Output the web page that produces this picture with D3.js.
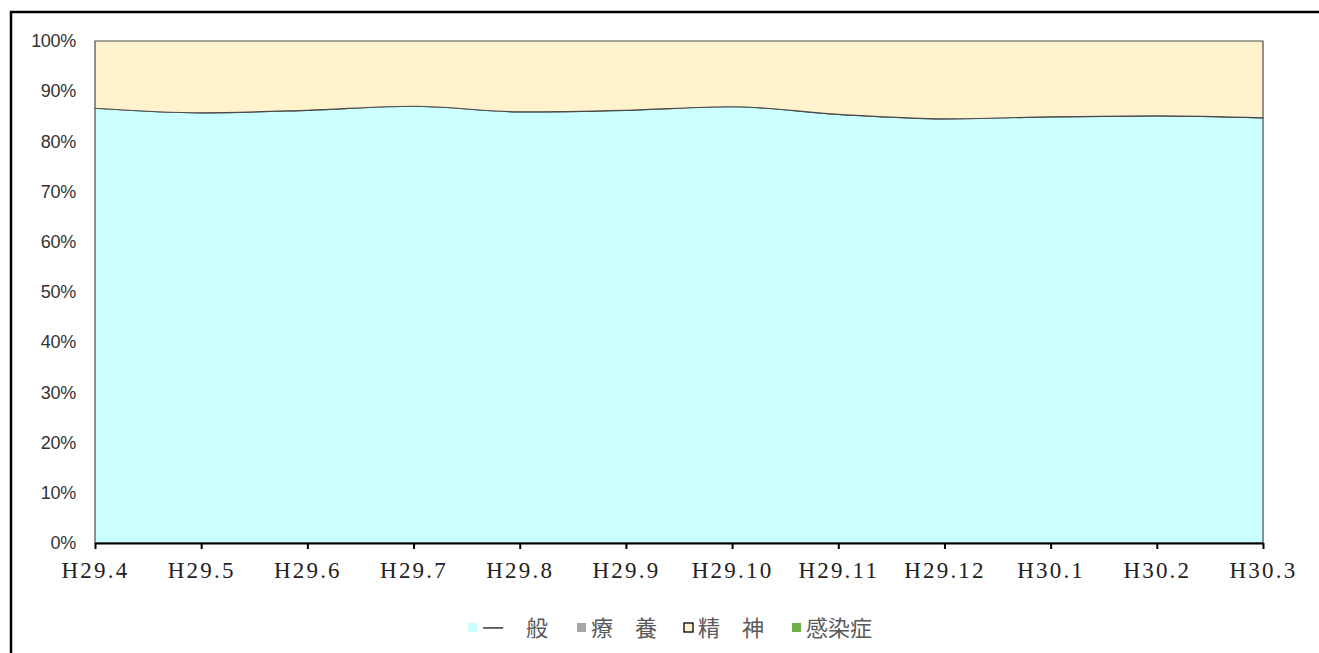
<!DOCTYPE html>
<html>
<head>
<meta charset="utf-8">
<script src="https://cdn.jsdelivr.net/npm/d3@7"></script>
<style>
  body { margin: 0; background: #fff; }
  svg { display: block; }
</style>
</head>
<body>
<div id="chart"></div>
<script>
// months (category axis)
var months = ["H29.4", "H29.5", "H29.6", "H29.7", "H29.8", "H29.9", "H29.10", "H29.11", "H29.12", "H30.1", "H30.2", "H30.3"];
// share of each bed type, %
var ippan   = [86.6, 85.7, 86.2, 87.0, 85.9, 86.2, 86.9, 85.4, 84.5, 84.9, 85.1, 84.7];
var ryouyou = [0, 0, 0, 0, 0, 0, 0, 0, 0, 0, 0, 0];
var seishin = [13.4, 14.3, 13.8, 13.0, 14.1, 13.8, 13.1, 14.6, 15.5, 15.1, 14.9, 15.3];
var kansen  = [0, 0, 0, 0, 0, 0, 0, 0, 0, 0, 0, 0];
var yTicks  = [0, 0.1, 0.2, 0.3, 0.4, 0.5, 0.6, 0.7, 0.8, 0.9, 1];

var seriesNames = ["一　般", "療　養", "精　神", "感染症"];
var seriesKeys = ["ippan", "ryouyou", "seishin", "kansen"];
var colors = ["#ccffff", "#a6a6a6", "#fff2cc", "#70ad47"];

function DrawChart() {
  var W = 1319, H = 653;
  var svg = d3.select("#chart").append("svg").attr("width", W).attr("height", H);

  // outer frame (runs off the right / bottom edge like the picture)
  svg.append("rect").attr("x", 11).attr("y", 12).attr("width", 1400).attr("height", 800)
    .attr("fill", "none").attr("stroke", "#000").attr("stroke-width", 2.5);

  var rows = months.map(function(m, i) {
    return {month: m, ippan: ippan[i], ryouyou: ryouyou[i], seishin: seishin[i], kansen: kansen[i]};
  });

  var stack = d3.stack().keys(seriesKeys).offset(d3.stackOffsetExpand);
  var layers = stack(rows);

  var x = d3.scalePoint().domain(months).range([95, 1263]);
  var y = d3.scaleLinear().domain([0, 1]).range([543, 41]);

  var area = d3.area()
    .x(function(d) { return x(d.data.month); })
    .y0(function(d) { return y(d[0]); })
    .y1(function(d) { return y(d[1]); })
    .curve(d3.curveMonotoneX);

  svg.selectAll(".layer").data(layers).enter()
    .append("path")
    .attr("class", "layer")
    .attr("d", area)
    .attr("fill", function(d, i) { return colors[i]; })
    .attr("stroke", function(d, i) { return (d.key == "ryouyou" || d.key == "kansen") ? "none" : "#4a4a4a"; })
    .attr("stroke-width", 1.2);

  // y axis
  var yAxis = d3.axisLeft(y).tickValues(yTicks).tickSize(0).tickPadding(19)
    .tickFormat(d3.format(".0%"));
  var gy = svg.append("g").attr("transform", "translate(95,0)").call(yAxis);
  gy.select(".domain").remove();
  gy.selectAll("text")
    .attr("font-family", "'Liberation Sans', Arial, sans-serif")
    .attr("font-size", 18).attr("fill", "#333")
    .attr("letter-spacing", "-0.3px");

  // x axis
  var xAxis = d3.axisBottom(x).tickSize(6).tickSizeOuter(0).tickPadding(13);
  var gx = svg.append("g").attr("transform", "translate(0,543)").call(xAxis);
  gx.select(".domain").attr("stroke", "#000").attr("stroke-width", 2.2);
  gx.selectAll(".tick line").attr("stroke", "#000").attr("stroke-width", 2);
  gx.selectAll("text")
    .attr("font-family", "'Liberation Serif', 'DejaVu Serif', serif")
    .attr("font-size", 23).attr("fill", "#222")
    .attr("letter-spacing", "2.2px");

  // legend
  var legendX = [466, 575, 682, 790];
  var lg = svg.selectAll(".leg").data(seriesNames).enter().append("g")
    .attr("class", "leg")
    .attr("transform", function(d, i) { return "translate(" + legendX[i] + ",628)"; });
  lg.append("rect")
    .attr("x", 2).attr("y", -5).attr("width", 9).attr("height", 9)
    .attr("fill", function(d, i) { return colors[i]; })
    .attr("stroke", function(d, i) { return i == 2 ? "#000" : "none"; })
    .attr("stroke-width", 1.3);
  lg.append("text")
    .attr("x", 16).attr("y", 0).attr("dy", "0.36em")
    .attr("font-family", "'Noto Sans CJK JP', sans-serif")
    .attr("font-size", 22).attr("fill", "#595959")
    .text(function(d) { return d; });
}

DrawChart();
</script>
</body>
</html>
